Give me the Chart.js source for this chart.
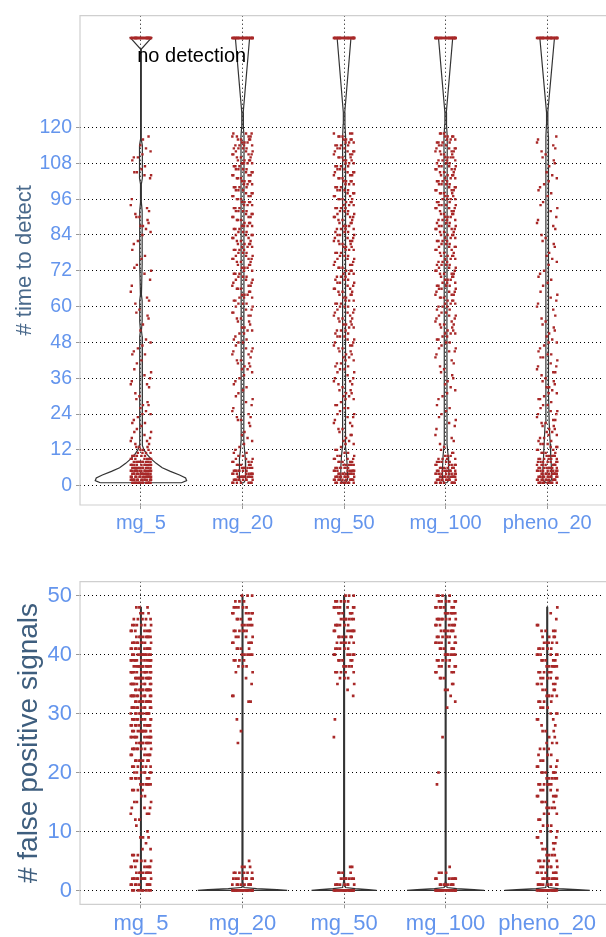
<!DOCTYPE html>
<html>
<head>
<meta charset="utf-8">
<script src="https://cdn.jsdelivr.net/npm/chart.js@4.4.1/dist/chart.umd.min.js"></script>
<style>
  body { margin: 0; background: #fff; }
  canvas { position: absolute; left: 0; }
</style>
</head>
<body>
<canvas id="detectChart" width="606" height="540" style="top:0"></canvas>
<canvas id="fpChart" width="606" height="392" style="top:545px"></canvas>
<script>
var categories = ['mg_5', 'mg_20', 'mg_50', 'mg_100', 'pheno_20'];
var timeTicks = [0, 12, 24, 36, 48, 60, 72, 84, 96, 108, 120];
var fpTicks = [0, 10, 20, 30, 40, 50];
var noDetectValue = 150;
var noDetectLabel = 'no detection';
var noDetectCounts = [30, 30, 30, 30, 30];

// runs per time to detect, values 1..120
var timeMg5 = [14,15,15,14,14,13,12,11,8,6, 4,3,3,2,2,2,1,2,1,1, 2,1,1,2,1,1,2,1,1,1,
  1,0,1,2,1,1,1,1,1,0, 1,1,0,2,1,1,1,1,1,0, 0,1,0,1,0,1,1,1,1,0, 1,1,1,0,1,0,1,0,1,0,
  1,1,1,1,0,1,1,0,1,0, 1,1,0,1,1,1,2,1,1,2, 1,1,1,1,0,1,0,0,0,0, 0,0,1,2,2,1,1,0,1,2,
  1,1,1,1,0,1,1,0,0,0];
var timeMg20 = [7,9,9,8,7,6,5,4,3,2, 2,1,1,1,1,1,1,1,0,1, 1,2,2,1,1,1,1,1,1,1,
  1,1,1,1,1,1,1,1,2,2, 2,2,1,2,2,2,1,2,2,1, 2,2,2,1,2,2,2,2,2,2, 3,2,3,3,2,3,3,2,3,3,
  3,2,3,3,3,4,3,3,4,3, 4,3,3,4,3,3,4,3,3,4, 3,4,3,3,4,3,4,3,3,4, 3,4,3,4,3,4,3,4,4,3,
  4,3,4,4,3,4,4,3,0,0];
var timeMg50 = [9,11,10,9,8,7,6,5,4,3, 2,2,1,2,2,1,2,1,2,1, 2,1,2,2,1,2,2,1,2,2,
  2,2,1,2,2,2,1,2,2,2, 2,2,2,2,2,2,3,2,2,3, 2,3,2,3,2,3,2,3,2,3, 3,3,2,3,3,3,2,3,3,3,
  3,3,3,3,2,3,3,3,3,3, 3,4,3,3,3,4,3,3,3,4, 3,3,4,3,3,4,3,3,4,3, 3,4,3,3,4,3,4,3,3,4,
  3,4,3,4,3,4,3,3,0,0];
var timeMg100 = [9,10,10,9,8,7,6,5,4,3, 2,1,1,1,1,1,1,0,1,1, 1,1,1,1,1,1,1,0,1,1,
  1,1,1,1,1,1,1,1,1,1, 1,1,1,1,2,2,1,2,2,2, 3,2,2,3,2,2,3,2,2,3, 3,3,3,3,3,3,4,3,3,3,
  4,3,3,4,3,3,4,3,3,4, 3,4,3,4,3,4,4,3,4,3, 4,3,4,4,3,4,3,4,4,3, 4,4,3,4,3,4,4,3,4,4,
  3,4,4,3,4,3,4,3,0,0];
var timePheno20 = [10,11,11,10,9,9,8,7,6,5, 4,3,3,3,2,2,2,2,2,2, 2,2,1,2,2,1,2,1,2,1,
  2,1,2,1,2,1,1,2,1,2, 1,1,2,2,1,1,1,2,1,1, 1,1,1,1,1,1,1,0,1,1, 1,1,1,1,1,0,1,1,1,1,
  1,1,0,1,1,1,1,1,0,1, 1,1,1,1,0,1,1,1,1,1, 0,1,1,1,1,0,1,1,1,1, 1,1,1,1,1,0,1,1,1,1,
  1,1,1,1,1,1,1,0,0,0];

// runs per number of false positive signals, values 0..50
var fpMg5 = [9,9,10,8,7,5,3,2,1,3, 1,1,2,3,3,3,2,4,6,7, 7,6,7,6,8,9,10,10,11,10,
  11,11,12,12,12,11,12,11,11,11, 10,10,9,8,7,6,5,3,3,0, 0];
var fpMg20 = [20,9,8,6,3,1,0,0,0,0, 0,0,0,0,0,0,0,0,0,0, 0,0,0,0,0,1,0,1,0,1,
  0,0,2,2,0,1,1,2,3,4, 5,4,5,4,6,5,5,6,5,3, 3];
var fpMg50 = [20,8,7,4,2,0,0,0,0,0, 0,0,0,0,0,0,0,0,0,0, 0,0,0,0,0,0,1,0,0,1,
  0,0,0,1,1,2,3,5,4,5, 6,5,6,6,7,6,7,6,7,5, 3];
var fpMg100 = [20,8,7,3,1,0,0,0,0,0, 0,0,0,0,0,0,0,0,1,0, 1,0,0,0,0,0,1,0,0,0,
  0,1,1,1,2,2,3,4,5,5, 6,6,7,7,7,7,8,7,7,6, 4];
var fpPheno20 = [20,10,9,7,6,5,4,3,3,3, 3,3,2,3,4,4,5,4,6,5, 6,4,3,3,3,3,2,3,2,3,
  3,3,4,5,4,5,6,5,6,5, 6,5,5,4,4,2,1,1,1,0, 0];

// violin outlines: [value, half width in category units]
var vTimeMg5 = [[1,0.40],[1.7,0.45],[2.6,0.44],[3.6,0.38],[4.8,0.29],[6,0.21],[7.5,0.15],[9,0.1],
  [10.5,0.06],[12,0.03],[13.5,0.016],[15,0.012],[50,0.012],[52,0.005],[55,0.012],[62,0.012],[64,0.005],
  [74,0.012],[92,0.012],[95,0.004],[101,0.004],[103,0.014],[114,0.014],[116,0.004],[145,0.003],[146.3,0.004],[150,0.103]];
var vTimeMg20 = [[1,0.012],[2,0.03],[5,0.032],[9,0.028],[12,0.02],[15,0.014],[30,0.012],[60,0.014],
  [117,0.015],[120,0.009],[125,0.007],[150,0.07]];
var vTimeMg50 = [[1,0.012],[2,0.035],[6,0.032],[10,0.025],[13,0.016],[20,0.013],[60,0.014],
  [117,0.015],[121,0.009],[125,0.007],[150,0.068]];
var vTimeMg100 = [[1,0.012],[2,0.035],[6,0.03],[10,0.025],[14,0.014],[50,0.013],
  [117,0.016],[121,0.009],[125,0.007],[150,0.07]];
var vTimePheno20 = [[1,0.012],[2,0.045],[6,0.042],[10,0.035],[14,0.03],[21,0.02],[31,0.013],
  [117,0.012],[121,0.007],[125,0.006],[150,0.072]];
var vFpMg5 = [[0,0.004],[48,0.004]];
var vFpMg20 = [[0,0.44],[0.15,0.34],[0.3,0.14],[0.5,0.014],[1.5,0.005],[50,0.004]];
var vFpMg50 = [[0,0.32],[0.15,0.24],[0.3,0.11],[0.5,0.014],[1.5,0.005],[50,0.004]];
var vFpMg100 = [[0,0.38],[0.15,0.28],[0.3,0.11],[0.5,0.014],[1.5,0.005],[50,0.004]];
var vFpPheno20 = [[0,0.42],[0.15,0.3],[0.3,0.11],[0.5,0.014],[1.5,0.005],[48,0.004]];

// fixed horizontal spread for the jittered points
var JIT = [-0.085,0.02,0.06,-0.04,0.095,-0.015,0.035,-0.07,0.075,-0.1,0.005,0.05,
  -0.055,0.1,-0.03,0.065,-0.09,0.04,-0.005,0.08,-0.065,0.015,-0.045,0.09];

var RED = '#a82828';
var BLUE = '#6495ed';
var FONT = "'Liberation Sans', Arial, sans-serif";
Chart.defaults.font.family = FONT;

function jitterPoints(countLists, start, extraValue, extraCounts) {
  var pts = [];
  countLists.forEach(function(counts, ci) {
    var k = ci * 5;
    function add(v) { pts.push({x: ci + 1 + JIT[k % JIT.length], y: v}); k += 7; }
    counts.forEach(function(n, i) { for (var j = 0; j < n; j++) add(i + start); });
    if (extraCounts) for (var j = 0; j < extraCounts[ci]; j++) add(extraValue);
  });
  return pts;
}

function violin(shape, ci) {
  var c = ci + 1;
  var left = shape.map(function(s) { return {x: c - s[1], y: s[0]}; });
  var right = shape.slice().reverse().map(function(s) { return {x: c + s[1], y: s[0]}; });
  return left.concat(right, [left[0]]);
}

function violinSets(shapes) {
  return shapes.map(function(s, i) {
    return {data: violin(s, i), showLine: true, borderColor: '#333333', borderWidth: 1.2,
      pointRadius: 0, fill: false, order: 2};
  });
}

var panelFrame = {
  id: 'panelFrame',
  beforeDatasetsDraw: function(chart) {
    var a = chart.chartArea, ctx = chart.ctx;
    ctx.save();
    ctx.strokeStyle = '#cfcfcf';
    ctx.lineWidth = 1.2;
    ctx.beginPath();
    ctx.moveTo(chart.width + 2, a.top);
    ctx.lineTo(a.left, a.top);
    ctx.lineTo(a.left, a.bottom);
    ctx.lineTo(chart.width + 2, a.bottom);
    ctx.stroke();
    ctx.restore();
  }
};

var noDetectText = {
  id: 'noDetectText',
  afterDatasetsDraw: function(chart) {
    var ctx = chart.ctx;
    ctx.save();
    ctx.font = '20px ' + FONT;
    ctx.fillStyle = '#000';
    ctx.textAlign = 'center';
    ctx.textBaseline = 'alphabetic';
    ctx.fillText(noDetectLabel, chart.scales.x.getPixelForValue(1.5), chart.scales.y.getPixelForValue(142));
    ctx.restore();
  }
};

function makeOptions(cfg) {
  return {
    responsive: false,
    animation: false,
    layout: {padding: {top: cfg.padTop, left: 0, right: 0, bottom: 0}},
    plugins: {legend: {display: false}, tooltip: {enabled: false}},
    scales: {
      x: {
        type: 'linear', min: 0.4, max: 5.54,
        afterBuildTicks: function(s) { s.ticks = categories.map(function(c, i) { return {value: i + 1}; }); },
        afterFit: function(s) { s.height = cfg.xHeight; },
        ticks: {color: BLUE, font: {size: cfg.xFont}, padding: 2,
          callback: function(v) { return categories[Math.round(v) - 1]; }},
        grid: {color: '#000', lineWidth: 1, tickLength: 4, tickColor: '#999', tickBorderDash: []},
        border: {display: false, dash: [1, 3]}
      },
      y: {
        min: cfg.min, max: cfg.max,
        afterBuildTicks: function(s) { s.ticks = cfg.ticks.map(function(v) { return {value: v}; }); },
        afterFit: function(s) { s.width = 80; },
        ticks: {color: BLUE, font: {size: cfg.yFont}, padding: 4},
        grid: {color: '#000', lineWidth: 1, tickLength: 4, tickColor: '#999', tickBorderDash: []},
        border: {display: false, dash: [1, 3]},
        title: {display: true, text: cfg.title, color: cfg.titleColor,
          font: {size: cfg.titleFont}, padding: {top: cfg.titlePad, bottom: 0}}
      }
    }
  };
}

new Chart(document.getElementById('detectChart'), {
  type: 'scatter',
  data: {
    datasets: [{
      data: jitterPoints([timeMg5, timeMg20, timeMg50, timeMg100, timePheno20], 1, noDetectValue, noDetectCounts),
      pointStyle: 'rect', pointRadius: 1.7, pointBorderWidth: 0, backgroundColor: RED, order: 0
    }].concat(violinSets([vTimeMg5, vTimeMg20, vTimeMg50, vTimeMg100, vTimePheno20]))
  },
  options: makeOptions({padTop: 11.5, xHeight: 35, min: -6.45, max: 157.45, ticks: timeTicks,
    xFont: 20, yFont: 19.5, title: '# time to detect', titleColor: '#4a6a8c', titleFont: 22, titlePad: 12}),
  plugins: [panelFrame, noDetectText]
});

new Chart(document.getElementById('fpChart'), {
  type: 'scatter',
  data: {
    datasets: [{
      data: jitterPoints([fpMg5, fpMg20, fpMg50, fpMg100, fpPheno20], 0),
      pointStyle: 'rect', pointRadius: 1.9, pointBorderWidth: 0, backgroundColor: RED, order: 0
    }].concat(violinSets([vFpMg5, vFpMg20, vFpMg50, vFpMg100, vFpPheno20]))
  },
  options: makeOptions({padTop: 36.7, xHeight: 32.7, min: -2.35, max: 52.35, ticks: fpTicks,
    xFont: 22, yFont: 22, title: '# false positive signals', titleColor: '#3e5e7e', titleFont: 28, titlePad: 12}),
  plugins: [panelFrame]
});
</script>
</body>
</html>
